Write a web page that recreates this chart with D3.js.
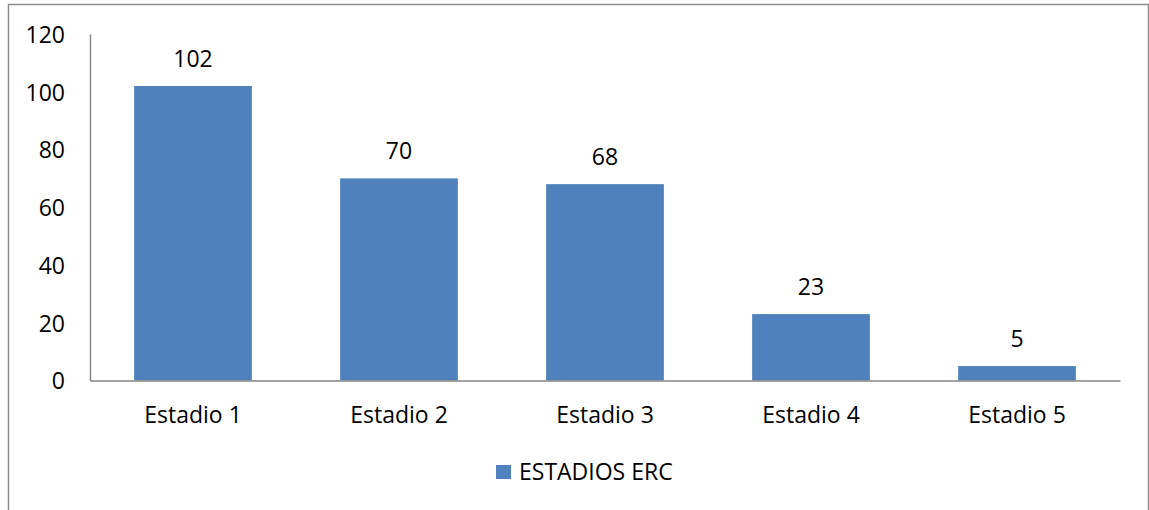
<!DOCTYPE html>
<html>
<head>
<meta charset="utf-8">
<script src="https://cdn.jsdelivr.net/npm/d3@7"></script>
<style>
  html, body { margin: 0; padding: 0; background: #fff; }
  svg { display: block; }
  text { font-family: "Open Sans", Carlito, Lato, sans-serif; fill: #000; }
</style>
</head>
<body>
<script>
// Chart data
const categories = ["Estadio 1", "Estadio 2", "Estadio 3", "Estadio 4", "Estadio 5"];
const values = [102, 70, 68, 23, 5];
const yTicks = [0, 20, 40, 60, 80, 100, 120];
const seriesName = "ESTADIOS ERC";

const W = 1149, H = 510;
const plot = { left: 90, right: 1120, top: 34, bottom: 380.5 };
const barColor = "#4F81BD";
const axisColor = "#868686";
const fontSize = 23;
const fontFamily = "'Open Sans', Carlito, Lato, sans-serif";

const svg = d3.select("body").append("svg")
  .attr("width", W).attr("height", H);

// chart frame
svg.append("rect")
  .attr("x", 8.5).attr("y", 4.5)
  .attr("width", 1140).attr("height", 520)
  .attr("fill", "#fff").attr("stroke", "#8c8c8c").attr("stroke-width", 1.5);

const x = d3.scaleBand()
  .domain(categories)
  .range([plot.left, plot.right])
  .paddingInner(0.4286)
  .paddingOuter(0.2143);

const y = d3.scaleLinear()
  .domain([0, 120])
  .range([plot.bottom, plot.top]);

// bars
svg.append("g").selectAll("rect")
  .data(values)
  .join("rect")
  .attr("x", (d, i) => x(categories[i]))
  .attr("y", d => y(d))
  .attr("width", x.bandwidth())
  .attr("height", d => y(0) - y(d))
  .attr("fill", barColor);

// value labels
svg.append("g").selectAll("text")
  .data(values)
  .join("text")
  .attr("x", (d, i) => x(categories[i]) + x.bandwidth() / 2)
  .attr("y", d => y(d) - 19)
  .attr("text-anchor", "middle")
  .attr("font-size", fontSize)
  .text(d => d);

// y axis
const yAxis = svg.append("g")
  .attr("transform", `translate(${plot.left},0)`)
  .call(d3.axisLeft(y).tickValues(yTicks).tickSize(0).tickPadding(25));
yAxis.select(".domain").attr("stroke", axisColor).attr("stroke-width", 1.5);
yAxis.selectAll("text")
  .attr("font-size", fontSize)
  .attr("font-family", fontFamily)
  .attr("dy", "0.36em")
  .attr("fill", "#000");

// x axis
const xAxis = svg.append("g")
  .attr("transform", `translate(0,${plot.bottom})`)
  .call(d3.axisBottom(x).tickSize(0));
xAxis.select(".domain").attr("stroke", axisColor).attr("stroke-width", 1.5);
xAxis.selectAll("text")
  .attr("y", 42.5)
  .attr("dy", 0)
  .attr("font-size", fontSize)
  .attr("font-family", fontFamily)
  .attr("fill", "#000");

// legend
const legend = svg.append("g").attr("transform", "translate(496,465)");
legend.append("rect")
  .attr("width", 15).attr("height", 14)
  .attr("fill", barColor);
legend.append("text")
  .attr("x", 23).attr("y", 14.5)
  .attr("font-size", fontSize)
  .text(seriesName);
</script>
</body>
</html>
